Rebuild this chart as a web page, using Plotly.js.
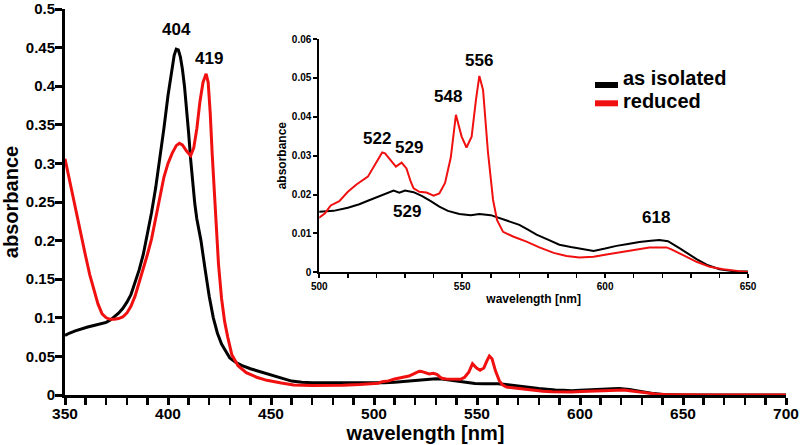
<!DOCTYPE html>
<html>
<head>
<meta charset="utf-8">
<script src="https://cdn.plot.ly/plotly-3.0.1.min.js"></script>
<style>html,body{margin:0;padding:0;background:#fff;}#chart{width:800px;height:445px;}</style>
</head>
<body>
<div id="chart"></div>
<script>
// ---- data ----
const seriesNames = ["as isolated", "reduced"];

const wlIsolated = [350,352,355,358,361,364,367,370,372,374,376,378,380,382,384,386,388,390,392,394,396,398,400,402,403,404,405,406,407,408,409,410,411,412,413,414,416,418,420,422,424,426,428,430,433,436,440,445,450,455,460,465,470,480,490,
500,505,510,514,517,521,524,526,528,530,533,536,539,542,545,549,553,556,560,563,566,570,573,576,580,584,588,592,596,600,604,608,612,616,619,622,624,626,629,632,636,640,645,650,660,680,700];
const absIsolated = [0.077,0.080,0.083,0.086,0.088,0.090,0.092,0.094,0.097,0.101,0.106,0.112,0.120,0.130,0.145,0.162,0.182,0.207,0.236,0.268,0.305,0.345,0.388,0.425,0.440,0.448,0.447,0.438,0.422,0.400,0.372,0.340,0.305,0.272,0.248,0.228,0.200,0.163,0.128,0.100,0.080,0.066,0.056,0.048,0.042,0.038,0.034,0.030,0.025,0.021,0.018,0.0165,0.016,0.016,0.0158,
0.0156,0.0158,0.0166,0.0175,0.0184,0.0195,0.0203,0.0210,0.0205,0.0210,0.0206,0.0196,0.0183,0.0169,0.0158,0.0150,0.0147,0.0150,0.0147,0.0140,0.0132,0.0122,0.0110,0.0097,0.0084,0.0071,0.0065,0.0060,0.0055,0.0061,0.0068,0.0073,0.0078,0.0081,0.0083,0.0080,0.0072,0.0062,0.0048,0.0034,0.0018,0.0008,0.0003,0.0001,0,0,0];

const wlReduced = [350,352,354,356,358,360,362,364,366,368,370,372,374,376,378,380,382,384,386,388,390,392,394,396,398,400,402,404,405.5,407,409,411,412.5,414,415.5,417,418.5,419.5,420.5,421.5,422.5,423.5,424.5,426,427.5,429,431,434,438,443,448,455,461,470,477,485,493,
500,502,504,507,510,513,517,519.5,522,523,524.7,526.8,528.8,530.5,532,533,535,537.5,540,542,544,546,547.8,549.8,551.5,553.3,554.8,556,557.3,559,560.8,562.2,564.3,567.8,572.5,577,582,586.5,591,596,600.5,605,610,615.5,621.5,623.2,627.3,632,636.6,641.3,647,650,660,680,700];
const absReduced = [0.306,0.280,0.258,0.230,0.203,0.180,0.156,0.136,0.118,0.105,0.100,0.098,0.098,0.099,0.101,0.106,0.115,0.128,0.145,0.163,0.182,0.202,0.230,0.258,0.282,0.300,0.313,0.323,0.326,0.324,0.316,0.310,0.320,0.345,0.380,0.405,0.416,0.405,0.365,0.310,0.260,0.215,0.170,0.125,0.095,0.075,0.052,0.038,0.029,0.023,0.019,0.0155,0.013,0.0123,0.012,0.0125,0.0135,
0.0141,0.0152,0.0172,0.0183,0.0207,0.0226,0.0246,0.0276,0.0308,0.0306,0.0290,0.0272,0.0282,0.0267,0.0233,0.0216,0.0207,0.0205,0.0197,0.0203,0.0230,0.0295,0.0405,0.0349,0.0321,0.0349,0.0443,0.0505,0.0469,0.0310,0.0186,0.0134,0.0104,0.0092,0.0079,0.0064,0.0050,0.0042,0.0038,0.0040,0.0046,0.0051,0.0057,0.0064,0.0064,0.0059,0.0044,0.0027,0.0014,0.0008,0.0003,0.0001,0,0,0];

// tick labels
const mainXTicks = [350,400,450,500,550,600,650,700];
const mainYTicks = [0,0.05,0.1,0.15,0.2,0.25,0.3,0.35,0.4,0.45,0.5];
const mainYTickText = ["0","0.05","0.1","0.15","0.2","0.25","0.3","0.35","0.4","0.45","0.5"];
const insetXTicks = [500,550,600,650];
const insetYTicks = [0,0.01,0.02,0.03,0.04,0.05,0.06];
const insetYTickText = ["0","0.01","0.02","0.03","0.04","0.05","0.06"];

// peak labels: [text, wavelength, absorbance at label]
const mainPeakLabels = [["404",404,0.474],["419",420,0.436]];
const insetPeakLabels = [["522",520.1,0.0344],["529",531.4,0.0320],["548",545.1,0.0453],["556",555.8,0.0544],["529",530.8,0.0157],["618",617.7,0.0140]];

// ---- layout helpers ----
const W = 800, H = 445, ML = 65, MR = 14, MT = 9, MB = 50;
const PW = W - ML - MR, PH = H - MT - MB;
const px = x => (x - ML) / PW;
const py = y => (H - MB - y) / PH;

const FONT = "Liberation Sans, Arial, sans-serif";
const BLACK = "#000000", RED = "#f01010";

const traces = [
  {x: wlIsolated, y: absIsolated, name: seriesNames[0], type: "scatter", mode: "lines", line: {color: BLACK, width: 3}, showlegend: false, xaxis: "x", yaxis: "y"},
  {x: wlReduced, y: absReduced, name: seriesNames[1], type: "scatter", mode: "lines", line: {color: RED, width: 3}, showlegend: false, xaxis: "x", yaxis: "y"},
  {x: wlIsolated, y: absIsolated, name: seriesNames[0], type: "scatter", mode: "lines", line: {color: BLACK, width: 2}, showlegend: false, xaxis: "x2", yaxis: "y2"},
  {x: wlReduced, y: absReduced, name: seriesNames[1], type: "scatter", mode: "lines", line: {color: RED, width: 2}, showlegend: false, xaxis: "x2", yaxis: "y2"}
];

const boldFont = (size) => ({family: FONT, size: size, color: BLACK, weight: "bold"});

const annotations = [];
mainPeakLabels.forEach(p => annotations.push({text: p[0], x: p[1], y: p[2], xref: "x", yref: "y", showarrow: false, xanchor: "center", yanchor: "middle", font: boldFont(17)}));
insetPeakLabels.forEach(p => annotations.push({text: p[0], x: p[1], y: p[2], xref: "x2", yref: "y2", showarrow: false, xanchor: "center", yanchor: "middle", font: boldFont(17)}));
// manual legend text
annotations.push({text: seriesNames[0], x: px(621), y: py(78), xref: "paper", yref: "paper", showarrow: false, xanchor: "left", yanchor: "middle", font: boldFont(20)});
annotations.push({text: seriesNames[1], x: px(621), y: py(101), xref: "paper", yref: "paper", showarrow: false, xanchor: "left", yanchor: "middle", font: boldFont(20)});

const shapes = [
  {type: "line", xref: "paper", yref: "paper", x0: px(595), x1: px(618), y0: py(85), y1: py(85), line: {color: BLACK, width: 6}},
  {type: "line", xref: "paper", yref: "paper", x0: px(595), x1: px(618), y0: py(103.3), y1: py(103.3), line: {color: RED, width: 6}}
];

const layout = {
  width: W, height: H,
  margin: {l: ML, r: MR, t: MT, b: MB, pad: 0},
  paper_bgcolor: "#ffffff", plot_bgcolor: "rgba(0,0,0,0)",
  showlegend: false,
  font: {family: FONT, color: BLACK},
  xaxis: {
    range: [350, 700], domain: [0, 1], anchor: "y",
    tickmode: "array", tickvals: mainXTicks, ticktext: mainXTicks.map(String),
    ticks: "outside", ticklen: 7, tickwidth: 3, tickcolor: BLACK, ticklabelstandoff: -5, ticklabeloverflow: "allow",
    minor: {tickmode: "linear", tick0: 350, dtick: 10, ticks: "outside", ticklen: 7, tickwidth: 2.5, tickcolor: BLACK},
    showline: true, linewidth: 3, linecolor: BLACK, showgrid: false, zeroline: false,
    tickfont: boldFont(15.5),
    title: {text: "wavelength [nm]", font: boldFont(20), standoff: 0}
  },
  yaxis: {
    range: [0, 0.5], domain: [0, 1], anchor: "x",
    tickmode: "array", tickvals: mainYTicks, ticktext: mainYTickText,
    ticks: "outside", ticklen: 7, tickwidth: 3, tickcolor: BLACK, ticklabelstandoff: -3, ticklabeloverflow: "allow",
    showline: true, linewidth: 3, linecolor: BLACK, showgrid: false, zeroline: false,
    tickfont: boldFont(15),
    title: {text: "absorbance", font: boldFont(20), standoff: 7}
  },
  xaxis2: {
    range: [500, 650], domain: [px(319.3), px(748)], anchor: "y2",
    tickmode: "array", tickvals: insetXTicks, ticktext: insetXTicks.map(String),
    ticks: "outside", ticklen: 4, tickwidth: 2, tickcolor: BLACK,
    minor: {tickmode: "linear", tick0: 500, dtick: 10, ticks: "outside", ticklen: 4, tickwidth: 1.5, tickcolor: BLACK},
    showline: true, linewidth: 2, linecolor: BLACK, showgrid: false, zeroline: false,
    tickfont: boldFont(10),
    title: {text: "wavelength [nm]", font: boldFont(12), standoff: 3}
  },
  yaxis2: {
    range: [0, 0.06], domain: [py(272.3), py(39)], anchor: "x2",
    tickmode: "array", tickvals: insetYTicks, ticktext: insetYTickText,
    ticks: "outside", ticklen: 4, tickwidth: 2, tickcolor: BLACK,
    showline: true, linewidth: 2, linecolor: BLACK, showgrid: false, zeroline: false,
    tickfont: boldFont(10),
    title: {text: "absorbance", font: boldFont(12), standoff: 3}
  },
  annotations: annotations,
  shapes: shapes
};

Plotly.newPlot("chart", traces, layout, {displayModeBar: false, staticPlot: true});
</script>
</body>
</html>
